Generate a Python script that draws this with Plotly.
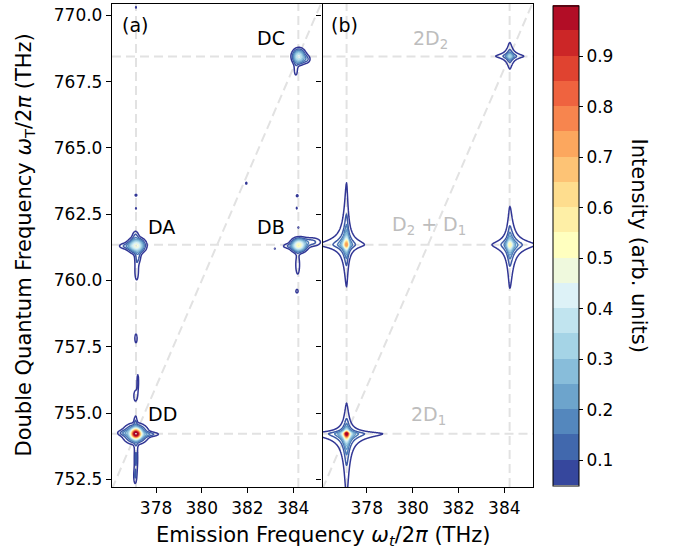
import numpy as np
import plotly.graph_objects as go
from plotly.colors import sample_colorscale, diverging

# ---------------- axes / ticks ----------------
X_RANGE = [376.07, 385.25]
Y_RANGE = [752.21, 770.43]
X_TICKS = [378, 380, 382, 384]
Y_TICKS = [752.5, 755.0, 757.5, 760.0, 762.5, 765.0, 767.5, 770.0]
CB_TICKS = [0.1, 0.2, 0.3, 0.4, 0.5, 0.6, 0.7, 0.8, 0.9]
CB_RANGE = [0.05, 1.0]
LEVELS = dict(start=0.05, end=0.95, size=0.05)

# ---------------- transition frequencies (THz) ----------------
D_EMISSION = [377.12, 384.23]            # vertical guide lines
D_DOUBLE = [754.22, 761.35, 768.45]      # horizontal guide lines (2D1, D1+D2, 2D2)

# ---------------- panel (b): simulated peaks ----------------
B_X0 = [377.12, 377.12, 384.24, 384.24]
B_Y0 = [754.22, 761.35, 761.35, 768.46]
B_AMP = [1.0, 0.75, 0.55, 0.35]
B_WX_LEFT = [0.079, 0.080, 0.071, 0.089]
B_WX_RIGHT = [0.079, 0.052, 0.100, 0.088]
B_WY_DOWN = [0.120, 0.106, 0.150, 0.070]
B_WY_UP = [0.058, 0.156, 0.132, 0.075]

# ---------------- panel (a): measured features ----------------
A_X0 = [377.12, 377.10, 377.65, 376.62, 377.12, 377.08, 377.10,
        377.20, 377.10, 377.12,
        377.15, 376.70, 377.10, 377.20, 377.15,
        377.12, 377.12, 377.12,
        384.25, 384.80, 383.80, 384.20, 384.17, 383.20,
        384.18, 384.16, 384.23,
        384.25, 384.60, 384.12,
        381.95]
A_Y0 = [754.22, 754.22, 754.20, 754.25, 753.30, 752.60, 754.70,
        756.20, 755.65, 757.82,
        761.32, 761.30, 761.70, 760.90, 760.35,
        763.22, 762.72, 770.30,
        761.33, 761.45, 761.30, 760.60, 759.60, 761.20,
        763.20, 762.73, 762.00,
        768.45, 768.35, 767.95,
        763.67]
A_AMP = [0.70, 0.30, 0.11, 0.09, 0.11, 0.08, 0.08,
         0.07, 0.075, 0.07,
         0.45, 0.10, 0.09, 0.10, 0.09,
         0.065, 0.06, 0.06,
         0.50, 0.12, 0.08, 0.10, 0.07, 0.06,
         0.065, 0.06, 0.06,
         0.40, 0.09, 0.075,
         0.065]
A_SX = [0.14, 0.32, 0.35, 0.22, 0.06, 0.05, 0.05,
        0.04, 0.08, 0.06,
        0.22, 0.25, 0.10, 0.10, 0.07,
        0.05, 0.03, 0.03,
        0.20, 0.30, 0.22, 0.07, 0.06, 0.03,
        0.05, 0.03, 0.03,
        0.17, 0.12, 0.07,
        0.035]
A_SY = [0.12, 0.22, 0.06, 0.07, 0.45, 0.22, 0.18,
        0.30, 0.22, 0.20,
        0.16, 0.08, 0.14, 0.20, 0.30,
        0.05, 0.045, 0.04,
        0.15, 0.12, 0.07, 0.30, 0.08, 0.03,
        0.055, 0.05, 0.035,
        0.17, 0.11, 0.22,
        0.05]

# ---------------- sampling grid ----------------
gx = np.arange(376.0, 385.42, 0.02)
gy = np.arange(752.0, 770.62, 0.025)
GX, GY = np.meshgrid(gx, gy)

Zb = np.zeros_like(GX)
for x0, y0, a, wl, wr, wd, wu in zip(B_X0, B_Y0, B_AMP, B_WX_LEFT, B_WX_RIGHT, B_WY_DOWN, B_WY_UP):
    dx = GX - x0
    dy = GY - y0
    wx = np.where(dx < 0, wl, wr)
    wy = np.where(dy < 0, wd, wu)
    Zb = np.maximum(Zb, a / np.sqrt((1 + (dx / wx) ** 2) * (1 + (dy / wy) ** 2)))

Za = np.zeros_like(GX)
for x0, y0, a, sx, sy in zip(A_X0, A_Y0, A_AMP, A_SX, A_SY):
    Za += a * np.exp(-0.5 * (((GX - x0) / sx) ** 2 + ((GY - y0) / sy) ** 2))

Za = Za.astype(np.float32)
Zb = Zb.astype(np.float32)

# ---------------- colours ----------------
base = diverging.RdYlBu[::-1]
cont_scale = [[i / (len(base) - 1), c] for i, c in enumerate(base)]
nb = 19
disc_scale = []
for i in range(nb):
    c = sample_colorscale(cont_scale, (i + 0.5) / nb)[0]
    disc_scale += [[i / nb, c], [(i + 1) / nb, c]]

FONT = "DejaVu Sans"
fig = go.Figure()

for Z, xa, ya in [(Za, "x", "y"), (Zb, "x2", "y2")]:
    fig.add_trace(go.Contour(
        x=gx, y=gy, z=Z, xaxis=xa, yaxis=ya,
        colorscale=cont_scale, showscale=False,
        contours=dict(coloring="lines", **LEVELS),
        line=dict(width=1.5, smoothing=1), hoverinfo="skip",
    ))

# dummy trace carrying the discrete colour bar
fig.add_trace(go.Scatter(
    x=[None], y=[None], mode="markers", xaxis="x2", yaxis="y2", showlegend=False,
    hoverinfo="skip",
    marker=dict(color=[0.5], colorscale=disc_scale, cmin=CB_RANGE[0], cmax=CB_RANGE[1],
                showscale=True,
                colorbar=dict(x=1.0468, xanchor="left", y=0.5, yanchor="middle",
                              lenmode="pixels", len=480, thickness=25.6,
                              outlinewidth=1, outlinecolor="black",
                              tickvals=CB_TICKS, ticks="outside", ticklen=4, tickwidth=1,
                              tickcolor="black", tickformat=".1f",
                              tickfont=dict(family=FONT, size=17, color="black"),
                              xpad=0, ypad=0)),
))

axis_common = dict(showline=True, linecolor="black", linewidth=1.3, mirror=True,
                   ticks="outside", ticklen=5, tickwidth=1.2, tickcolor="black",
                   showgrid=False, zeroline=False,
                   tickfont=dict(family=FONT, size=17, color="black"))

fig.update_layout(
    width=686, height=552,
    margin=dict(l=112, r=153, t=4, b=65),
    plot_bgcolor="white", paper_bgcolor="white",
    xaxis=dict(domain=[0, 0.498], range=X_RANGE, tickvals=X_TICKS, **axis_common),
    xaxis2=dict(domain=[0.5, 1.0], range=X_RANGE, tickvals=X_TICKS, **axis_common),
    yaxis=dict(range=Y_RANGE, tickvals=Y_TICKS, tickformat=".1f", **axis_common),
    yaxis2=dict(range=Y_RANGE, tickvals=Y_TICKS, anchor="x2", showticklabels=False, **axis_common),
    showlegend=False,
)

# guide lines
GUIDE = dict(color="#e2e2e2", width=2, dash="9px,5px")
for xr, yr in [("x", "y"), ("x2", "y2")]:
    for xv in D_EMISSION:
        fig.add_shape(type="line", xref=xr, yref=yr, x0=xv, x1=xv, y0=Y_RANGE[0], y1=Y_RANGE[1],
                      line=GUIDE, layer="below")
    for yv in D_DOUBLE:
        fig.add_shape(type="line", xref=xr, yref=yr, x0=X_RANGE[0], x1=X_RANGE[1], y0=yv, y1=yv,
                      line=GUIDE, layer="below")
    fig.add_shape(type="line", xref=xr, yref=yr, x0=X_RANGE[0], x1=X_RANGE[1],
                  y0=2 * X_RANGE[0], y1=2 * X_RANGE[1], line=GUIDE, layer="below")

# labels
LAB_A = [("(a)", 377.06, 769.65), ("DC", 383.05, 769.16), ("DA", 378.22, 762.0),
         ("DB", 383.05, 762.0), ("DD", 378.26, 754.95)]
LAB_B = [("(b)", 377.05, 769.65, "black"), ("2D<sub>2</sub>", 380.79, 769.08, "#bdbdbd"),
         ("D<sub>2</sub> + D<sub>1</sub>", 380.73, 762.06, "#bdbdbd"),
         ("2D<sub>1</sub>", 380.70, 754.91, "#bdbdbd")]
for t, xv, yv in LAB_A:
    fig.add_annotation(text=t, x=xv, y=yv, xref="x", yref="y", showarrow=False,
                       xanchor="center", yanchor="middle",
                       font=dict(family=FONT, size=19, color="black"))
for t, xv, yv, col in LAB_B:
    fig.add_annotation(text=t, x=xv, y=yv, xref="x2", yref="y2", showarrow=False,
                       xanchor="center", yanchor="middle",
                       font=dict(family=FONT, size=19, color=col))

# axis titles
fig.add_annotation(text="Emission Frequency <i>ω<sub>t</sub></i>/2<i>π</i> (THz)",
                   x=0.5, y=-0.101, xref="paper", yref="paper", showarrow=False,
                   xanchor="center", yanchor="middle",
                   font=dict(family=FONT, size=21, color="black"))
fig.add_annotation(text="Double Quantum Frequency <i>ω</i><sub>T</sub>/2<i>π</i> (THz)",
                   x=-0.209, y=0.5, xref="paper", yref="paper", showarrow=False,
                   textangle=-90, xanchor="center", yanchor="middle",
                   font=dict(family=FONT, size=21, color="black"))
fig.add_annotation(text="Intensity (arb. units)",
                   x=1.254, y=0.5, xref="paper", yref="paper", showarrow=False,
                   textangle=90, xanchor="center", yanchor="middle",
                   font=dict(family=FONT, size=21, color="black"))

fig.write_html("out.html", config={"displayModeBar": False},
               post_script="document.body.style.margin='0px';")
